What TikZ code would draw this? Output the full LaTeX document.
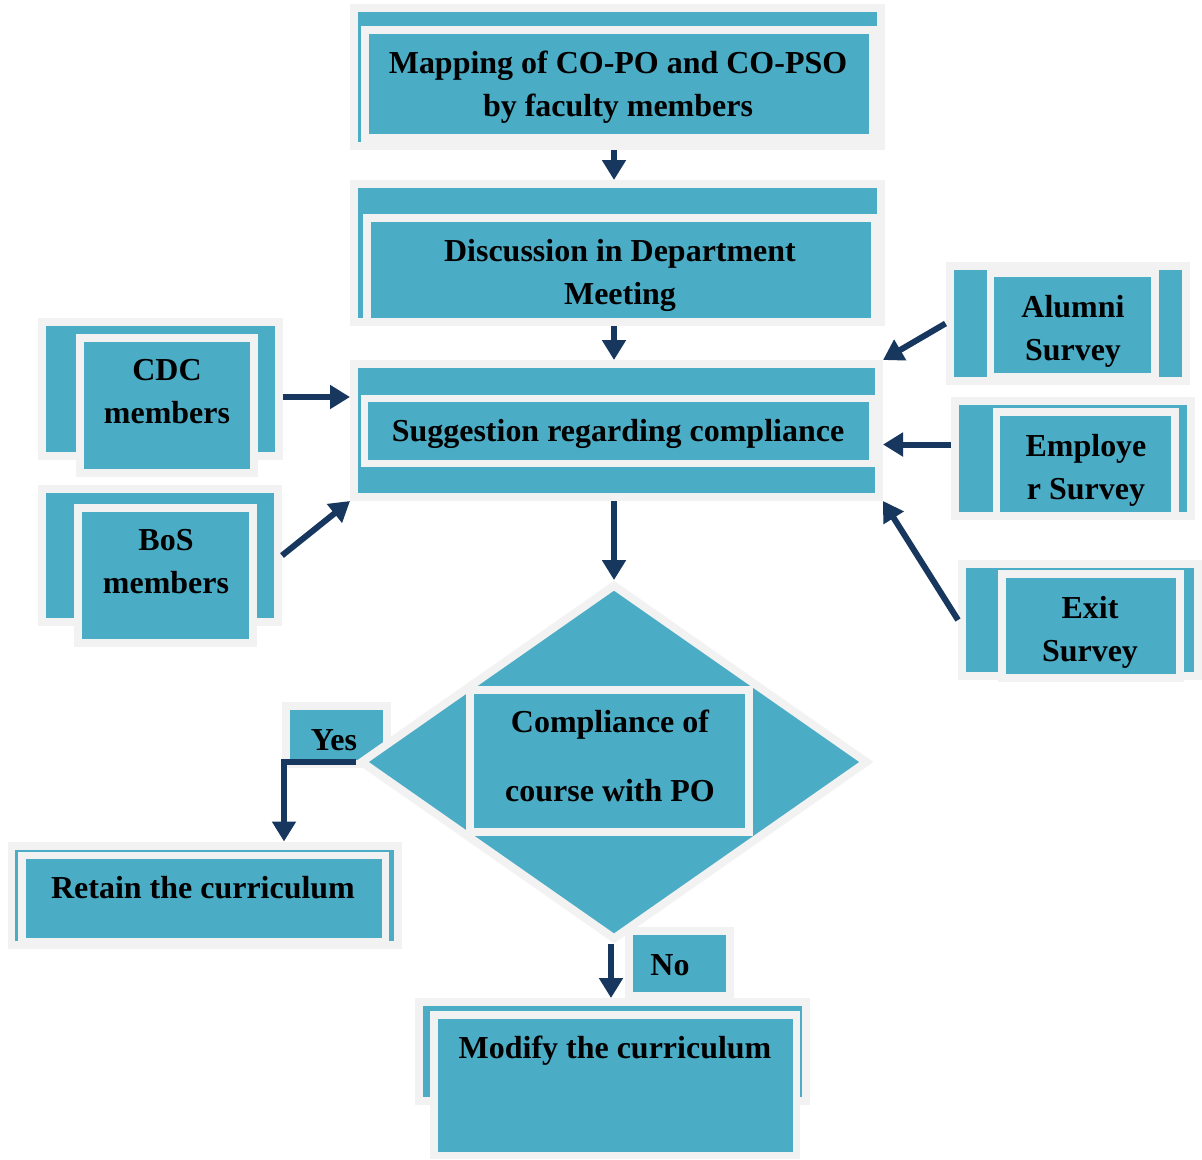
\documentclass[tikz,border=0pt]{standalone}
\usepackage{fontspec}
\setmainfont{Liberation Serif}
\usetikzlibrary{arrows.meta,shapes.geometric,fit}
\definecolor{tealc}{HTML}{4BACC6}
\definecolor{lgray}{HTML}{F2F2F2}
\definecolor{navy}{HTML}{17375E}
\begin{document}
\begin{tikzpicture}[x=0.02cm,y=-0.02cm,
  obox/.style={rectangle, draw=lgray, fill=tealc, line width=0.16cm, inner sep=0pt},
  ibox/.style={rectangle, draw=lgray, fill=tealc, line width=0.15cm, inner sep=0pt},
  txt/.style={font=\fontsize{18.2}{24.5}\selectfont\bfseries, align=center, inner sep=0pt, text=black},
  arr/.style={draw=navy, line width=0.12cm, -{Triangle[width=0.46cm,length=0.4cm]}},
]
\fill[white] (0,0) rectangle (1202,1159);
\useasboundingbox (0,0) rectangle (1202,1159);

% Mapping box
\node[obox, fit={(354,8) (881,146)}] (b1) {};
\node[ibox, fit={(365,30) (873,138)}] (b1i) {};
\node[txt] (t1) at (618,87) {Mapping of CO-PO and CO-PSO\\by faculty members};

% Discussion box
\node[obox, fit={(354,184) (881,322)}] (b2) {};
\node[ibox, fit={(367,218) (874.5,322)}] (b2i) {};
\node[txt] (t2) at (620,275) {Discussion in Department\\Meeting};

% Suggestion box
\node[obox, fit={(354,364) (879,497)}] (b3) {};
\node[ibox, fit={(364.5,398.5) (872.5,463.5)}] (b3i) {};
\node[txt] (t3) at (618,434) {Suggestion regarding compliance};

% CDC
\node[obox, fit={(42,322) (278.5,456)}] (cdc) {};
\node[ibox, fit={(80,338) (254,473)}] (cdci) {};
\node[txt] (tcdc) at (167,391.5) {CDC\\members};

% BoS
\node[obox, fit={(42,489) (278,622)}] (bos) {};
\node[ibox, fit={(78,508) (253,643)}] (bosi) {};
\node[txt] (tbos) at (166,561.5) {BoS\\members};

% Alumni
\node[obox, fit={(949.5,266) (1186,381)}] (alu) {};
\node[ibox, fit={(990.5,273.5) (1155,377)}] (alui) {};
\node[txt] (talu) at (1073,331) {Alumni\\Survey};

% Employer
\node[obox, fit={(955,401) (1191,516)}] (emp) {};
\node[ibox, fit={(996.5,412) (1175,516)}] (empi) {};
\node[txt] (temp) at (1086,470) {Employe\\r Survey};

% Exit
\node[obox, fit={(962,564) (1198,676)}] (ext) {};
\node[ibox, fit={(1002,574) (1180,678)}] (exti) {};
\node[txt] (text) at (1090,632) {Exit\\Survey};

% Yes label
\node[obox, fit={(285.5,706) (386.5,764)}] (yes) {};
\node[txt] (tyes) at (334,740) {Yes};

% Decision diamond
\node[diamond, draw=lgray, fill=tealc, line width=0.16cm, inner sep=0pt,
      minimum width=10.16cm, minimum height=7.12cm] (dia) at (614,762) {};
\node[ibox, fit={(470,690) (749,832)}] (diai) {};
\node[txt, font=\fontsize{18.2}{39}\selectfont\bfseries] (tdia) at (610,756) {Compliance of\\course with PO};

% Retain
\node[obox, fit={(11.5,845.5) (398,944.5)}] (ret) {};
\node[ibox, fit={(22,855.5) (385.5,942)}] (reti) {};
\node[txt] (tret) at (203,888) {Retain the curriculum};

% No label
\node[obox, fit={(628.5,931) (729.5,996)}] (no) {};
\node[txt] (tno) at (670,965) {No};

% Modify
\node[obox, fit={(419,1002) (805.5,1100.5)}] (mod) {};
\node[ibox, fit={(434,1015) (796.5,1155.5)}] (modi) {};
\node[txt] (tmod) at (615,1051) {Modify the curriculum};

% connectors
\draw[arr] (b1.south -| dia.north) -- (b2.north -| dia.north);
\draw[arr] (b2.south -| dia.north) -- (b3.north -| dia.north);
\draw[arr] (b3.south -| dia.north) -- (dia.north);
\coordinate (cdcs) at ([yshift=-0.16cm]cdc.east);
\draw[arr] (cdcs) -- (cdcs -| b3.west);
\draw[arr] (bos.east) -- (b3.south west);
\draw[arr] (alu.west) -- (b3.north east);
\coordinate (emps) at ([yshift=0.28cm]emp.west);
\draw[arr] (emps) -- (emps -| b3.east);
\draw[arr] (ext.west) -- (b3.south east);
\coordinate (ycorner) at (284,762);
\draw[arr] (dia.west) -- (ycorner) -- (ycorner |- ret.north);
\draw[arr] ([xshift=-0.06cm]dia.south) -- ([xshift=-0.06cm]dia.south |- mod.north);
\end{tikzpicture}
\end{document}
